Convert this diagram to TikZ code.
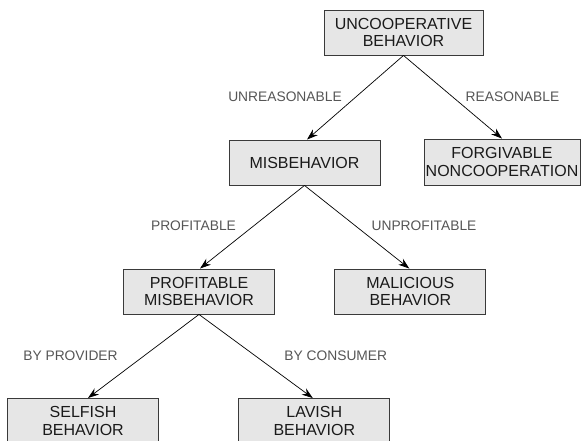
\documentclass[tikz,border=0pt]{standalone}
\usepackage{fontspec}
\setmainfont{Liberation Sans}
\usetikzlibrary{arrows.meta}
\definecolor{boxfill}{HTML}{E6E6E6}
\definecolor{boxline}{HTML}{3A3A3A}
\definecolor{labelgray}{HTML}{555555}
\definecolor{textdark}{HTML}{1A1A1A}
\begin{document}
\begin{tikzpicture}[x=1pt,y=-1pt,
  catbox/.style={draw=boxline, line width=0.9pt, fill=boxfill, text=textdark, align=center,
    inner sep=0pt, minimum height=45pt,
    font=\fontsize{16}{17.5}\selectfont},
  edgelabel/.style={text=labelgray, inner sep=0pt, font=\fontsize{13.8}{15}\selectfont},
  conn/.style={draw=black, line width=0.7pt, -{Stealth[length=11pt,width=7.5pt]}}
]
\useasboundingbox (0,0) rectangle (581,441);
\node[catbox, minimum width=159pt] (ub) at (403.5,32.5) {UNCOOPERATIVE\\BEHAVIOR};
\node[catbox, minimum width=151pt] (mis) at (304.5,162.5) {MISBEHAVIOR};
\node[catbox, minimum width=156pt, minimum height=46pt] (forg) at (502,162) {FORGIVABLE\\NONCOOPERATION};
\node[catbox, minimum width=151pt] (pm) at (199,291.5) {PROFITABLE\\MISBEHAVIOR};
\node[catbox, minimum width=151pt] (mal) at (410.3,291.5) {MALICIOUS\\BEHAVIOR};
\node[catbox, minimum width=151pt] (sel) at (83,421) {SELFISH\\BEHAVIOR};
\node[catbox, minimum width=151pt] (lav) at (314.3,421) {LAVISH\\BEHAVIOR};

\node[edgelabel] (l1) at (285,97) {UNREASONABLE};
\node[edgelabel] (l2) at (512.5,97) {REASONABLE};
\node[edgelabel] (l3) at (193.5,226) {PROFITABLE};
\node[edgelabel] (l4) at (424,226) {UNPROFITABLE};
\node[edgelabel] (l5) at (70.5,355.7) {BY PROVIDER};
\node[edgelabel] (l6) at (335.8,355.7) {BY CONSUMER};

\draw[conn] (ub.south) -- ([xshift=2.5pt]mis.north);
\draw[conn] (ub.south) -- (forg.north);
\draw[conn] (mis.south) -- ([xshift=1pt]pm.north);
\draw[conn] (mis.south) -- ([xshift=-1pt]mal.north);
\draw[conn] (pm.south) -- ([xshift=5pt]sel.north);
\draw[conn] (pm.south) -- ([xshift=-1.5pt]lav.north);
\end{tikzpicture}
\end{document}
